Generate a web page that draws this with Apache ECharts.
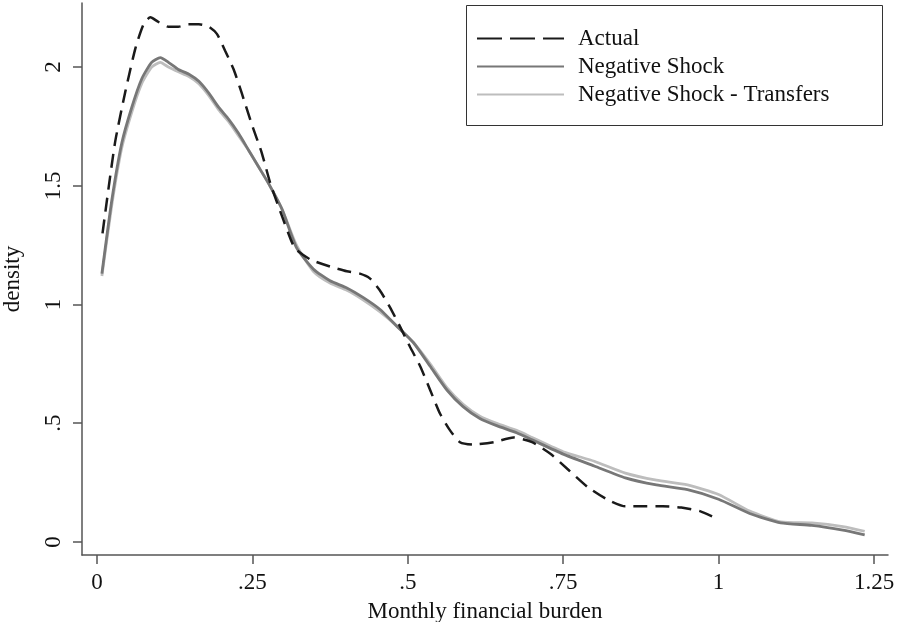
<!DOCTYPE html>
<html>
<head>
    <meta charset="utf-8">
    <script src="https://cdn.jsdelivr.net/npm/echarts@6/dist/echarts.min.js"></script>
    <style>
        body { margin: 0; background: #fff; }
        #main { width: 900px; height: 622px; }
    </style>
</head>
<body>
    <div id="main"></div>
    <script>
        // data
        let actualX = [0.009, 0.029, 0.046, 0.062, 0.075, 0.086, 0.099, 0.115, 0.131, 0.148, 0.164, 0.180, 0.193, 0.206, 0.220, 0.233, 0.249, 0.265, 0.279, 0.298, 0.314, 0.321, 0.343, 0.375, 0.402, 0.423, 0.439, 0.455, 0.471, 0.487, 0.504, 0.520, 0.536, 0.552, 0.568, 0.584, 0.605, 0.638, 0.670, 0.70, 0.73, 0.76, 0.79, 0.82, 0.85, 0.88, 0.91, 0.94, 0.97, 1.0];
        let actualY = [1.30, 1.68, 1.90, 2.08, 2.18, 2.21, 2.19, 2.17, 2.17, 2.18, 2.18, 2.17, 2.14, 2.07, 1.99, 1.89, 1.76, 1.64, 1.51, 1.37, 1.26, 1.23, 1.19, 1.16, 1.14, 1.13, 1.11, 1.06, 0.99, 0.91, 0.82, 0.74, 0.64, 0.54, 0.47, 0.42, 0.41, 0.42, 0.44, 0.42, 0.37, 0.30, 0.23, 0.18, 0.15, 0.15, 0.15, 0.145, 0.13, 0.095];

        let shockX = [0.008, 0.024, 0.040, 0.056, 0.072, 0.088, 0.102, 0.115, 0.131, 0.148, 0.164, 0.180, 0.196, 0.212, 0.228, 0.244, 0.260, 0.276, 0.298, 0.321, 0.348, 0.375, 0.402, 0.428, 0.455, 0.482, 0.509, 0.536, 0.563, 0.589, 0.616, 0.643, 0.675, 0.70, 0.75, 0.80, 0.85, 0.90, 0.95, 1.0, 1.05, 1.10, 1.15, 1.20, 1.235];
        let shockY = [1.13, 1.44, 1.68, 1.83, 1.95, 2.02, 2.04, 2.02, 1.99, 1.97, 1.94, 1.89, 1.83, 1.78, 1.72, 1.65, 1.58, 1.51, 1.40, 1.24, 1.15, 1.10, 1.07, 1.03, 0.98, 0.91, 0.84, 0.74, 0.64, 0.57, 0.52, 0.49, 0.46, 0.43, 0.37, 0.32, 0.27, 0.24, 0.22, 0.18, 0.12, 0.08, 0.07, 0.05, 0.03];
        let transfersY = [1.12, 1.42, 1.66, 1.81, 1.93, 2.00, 2.02, 2.00, 1.98, 1.96, 1.93, 1.88, 1.82, 1.77, 1.71, 1.65, 1.58, 1.51, 1.40, 1.25, 1.14, 1.09, 1.06, 1.02, 0.97, 0.91, 0.84, 0.75, 0.65, 0.58, 0.53, 0.50, 0.47, 0.44, 0.38, 0.34, 0.29, 0.26, 0.24, 0.20, 0.13, 0.085, 0.08, 0.065, 0.045];

        let xTicks = [0, 0.25, 0.5, 0.75, 1, 1.25];
        let xTickLabels = ['0', '.25', '.5', '.75', '1', '1.25'];
        let yTicks = [0, 0.5, 1, 1.5, 2];
        let yTickLabels = ['0', '.5', '1', '1.5', '2'];

        function pairs(xs, ys) {
            let out = [];
            for (let i = 0; i < xs.length; ++i) {
                out.push([xs[i], ys[i]]);
            }
            return out;
        }

        let font = 'Liberation Serif';
        let fontSize = 23;
        let axisColor = '#555';

        chart = echarts.init(document.getElementById('main'));
        option = {
            animation: false,
            grid: { left: 82, right: 12, top: 3, bottom: 67, outerBoundsMode: 'none', containLabel: false },
            legend: {
                orient: 'vertical',
                left: 476,
                top: 27,
                z: 10,
                padding: 0,
                itemWidth: 87,
                itemHeight: 22,
                itemGap: 5,
                itemStyle: { opacity: 0 },
                textStyle: { fontFamily: font, fontSize: fontSize, color: '#111', padding: [0, 0, 0, 9] },
                data: [
                    { name: 'Actual', lineStyle: { type: [25, 8] } },
                    { name: 'Negative Shock' },
                    { name: 'Negative Shock - Transfers' }
                ]
            },
            graphic: [{
                type: 'rect',
                shape: { x: 466.5, y: 5.5, width: 416, height: 120 },
                style: { fill: 'none', stroke: '#333', lineWidth: 1 },
                z: 0
            }],
            xAxis: {
                type: 'value',
                min: -0.024,
                max: 1.2725,
                name: 'Monthly financial burden',
                nameLocation: 'middle',
                nameGap: 45,
                nameTextStyle: { fontFamily: font, fontSize: fontSize, color: '#111' },
                axisLine: { onZero: false, lineStyle: { color: axisColor, width: 1.5 } },
                axisTick: { show: true, length: 9, customValues: xTicks, lineStyle: { color: axisColor, width: 1.5 } },
                axisLabel: {
                    customValues: xTicks,
                    margin: 16,
                    fontFamily: font, fontSize: fontSize, color: '#111',
                    formatter: function (v) { return xTickLabels[xTicks.indexOf(v)]; }
                },
                splitLine: { show: false }
            },
            yAxis: {
                type: 'value',
                min: -0.055,
                max: 2.27,
                name: 'density',
                nameLocation: 'middle',
                nameGap: 58,
                nameRotate: 90,
                nameTextStyle: { fontFamily: font, fontSize: fontSize, color: '#111' },
                axisLine: { show: true, onZero: false, lineStyle: { color: axisColor, width: 1.5 } },
                axisTick: { show: true, length: 9, customValues: yTicks, lineStyle: { color: axisColor, width: 1.5 } },
                axisLabel: {
                    customValues: yTicks,
                    rotate: 90,
                    margin: 17,
                    fontFamily: font, fontSize: fontSize, color: '#111',
                    formatter: function (v) { return yTickLabels[yTicks.indexOf(v)]; }
                },
                splitLine: { show: false }
            },
            series: [
                {
                    name: 'Negative Shock - Transfers',
                    type: 'line',
                    data: pairs(shockX, transfersY),
                    showSymbol: false,
                    symbol: 'none',
                    smooth: 0.2,
                    z: 2,
                    lineStyle: { color: '#bdbdbd', width: 2.8 },
                    itemStyle: { color: '#bdbdbd' }
                },
                {
                    name: 'Negative Shock',
                    type: 'line',
                    data: pairs(shockX, shockY),
                    showSymbol: false,
                    symbol: 'none',
                    smooth: 0.2,
                    z: 3,
                    lineStyle: { color: '#777', width: 2.8 },
                    itemStyle: { color: '#777' }
                },
                {
                    name: 'Actual',
                    type: 'line',
                    data: pairs(actualX, actualY),
                    showSymbol: false,
                    symbol: 'none',
                    smooth: 0.2,
                    z: 4,
                    lineStyle: { color: '#1a1a1a', width: 2.5, type: [14, 8] },
                    itemStyle: { color: '#1a1a1a' }
                }
            ]
        };
        chart.setOption(option);
    </script>
</body>
</html>
